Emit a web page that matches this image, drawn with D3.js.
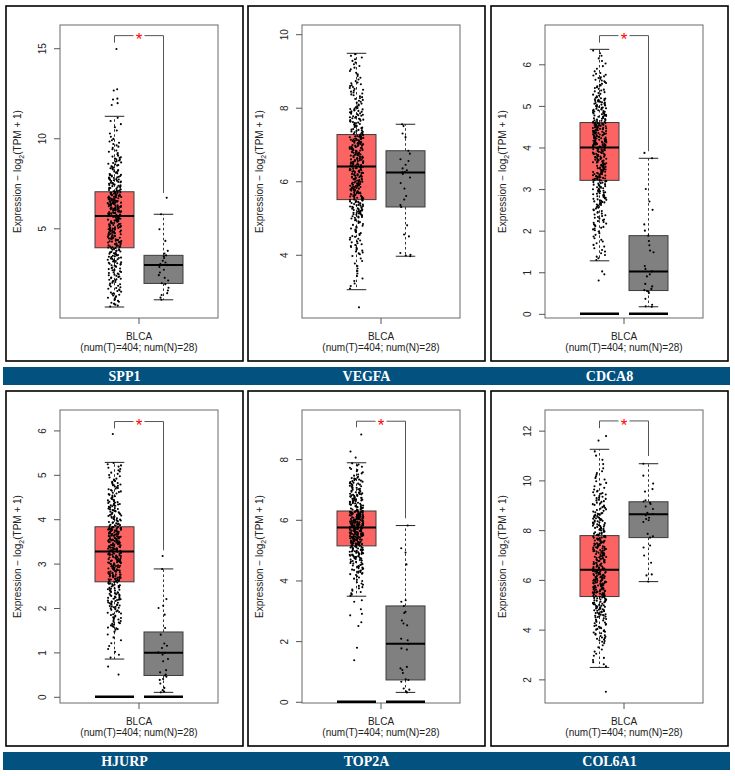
<!DOCTYPE html>
<html><head><meta charset="utf-8">
<script src="https://cdn.jsdelivr.net/npm/d3@7"></script>
<style>body{margin:0;background:#fff}</style>
</head><body><div id="chart"></div>
<script>
const genes = ["SPP1","VEGFA","CDCA8","HJURP","TOP2A","COL6A1"];
const groups = ["Tumor","Normal"];
const cancerLabel = "BLCA";
const countLabel = "(num(T)=404; num(N)=28)";
const yDomains = [[0.02,16.29],[2.28,10.25],[-0.10,6.945],[-0.14,6.46],[-0.04,9.62],[1.05,12.83]];
const yTicks = [[5,10,15],[4,6,8,10],[0,1,2,3,4,5,6],[0,1,2,3,4,5,6],[0,2,4,6,8],[2,4,6,8,10,12]];
// [lower whisker, Q1, median, Q3, upper whisker]
const tumorStats = [
  [0.63,3.92,5.68,7.03,11.22],
  [3.05,5.50,6.40,7.27,9.48],
  [1.275,3.21,4.00,4.60,6.36],
  [0.85,2.59,3.27,3.83,5.28],
  [3.48,5.14,5.75,6.29,7.88],
  [2.48,5.33,6.41,7.78,11.25]];
const normalStats = [
  [1.03,1.94,2.96,3.50,5.78],
  [3.96,5.30,6.24,6.83,7.55],
  [0.17,0.56,1.02,1.88,3.74],
  [0.10,0.48,0.99,1.46,2.88],
  [0.31,0.72,1.91,3.16,5.81],
  [5.93,7.70,8.64,9.14,10.67]];
// tumor sample density: [from, to, count]
const tumorBins = [
  [[0.63,1,7],[1,2,24],[2,3,32],[3,3.92,38],[3.92,4.8,50],[4.8,5.68,51],[5.68,6.35,51],[6.35,7.03,50],[7.03,8,45],[8,9,28],[9,10,14],[10,11.22,7]],
  [[3.05,4,14],[4,5,40],[5,5.5,47],[5.5,6.4,101],[6.4,7.27,101],[7.27,8,55],[8,8.7,28],[8.7,9.48,17]],
  [[1.275,2,18],[2,2.6,30],[2.6,3.21,50],[3.21,4,101],[4,4.6,101],[4.6,5.2,62],[5.2,5.8,30],[5.8,6.36,9]],
  [[0.85,1.5,10],[1.5,2,30],[2,2.59,58],[2.59,3.27,101],[3.27,3.83,101],[3.83,4.4,55],[4.4,4.9,32],[4.9,5.28,14]],
  [[3.48,4.2,18],[4.2,4.7,30],[4.7,5.14,44],[5.14,5.75,101],[5.75,6.29,101],[6.29,6.9,55],[6.9,7.4,30],[7.4,7.88,13]],
  [[2.48,3.5,12],[3.5,4.5,35],[4.5,5.33,53],[5.33,6.41,101],[6.41,7.78,101],[7.78,8.7,52],[8.7,9.6,30],[9.6,10.4,12],[10.4,11.25,5]]];
const tumorOutliers = [
  [14.96,12.72,12.65,12.2,12.15,11.95,11.85],
  [2.57],
  [1.02,0.95,0.8],
  [5.92,0.68,0.5],
  [8.81,8.25,8.05,3.35,3.3,3.05,2.9,2.85,2.62,2.5,1.78,1.37],
  [11.78,11.6,1.5]];
const normalValues = [
  [6.7,5.78,4.95,4.3,3.75,3.6,3.5,3.45,3.35,3.2,3.1,3.02,2.98,2.95,2.85,2.7,2.55,2.4,2.25,2.1,1.95,1.9,1.7,1.55,1.4,1.3,1.15,1.03],
  [7.55,7.5,7.3,7.2,6.83,6.75,6.6,6.55,6.45,6.35,6.3,6.25,6.24,6.2,6.1,5.95,5.8,5.6,5.5,5.35,5.3,4.8,4.55,4.5,4.05,4.0,3.98,3.96],
  [3.87,3.74,3.0,2.7,2.5,2.15,2.0,1.88,1.75,1.65,1.52,1.48,1.15,1.08,1.02,0.95,0.9,0.72,0.66,0.6,0.57,0.55,0.53,0.5,0.36,0.22,0.18,0.17],
  [3.17,2.88,2.2,2.05,2.0,1.85,1.55,1.4,1.2,1.15,1.1,1.0,0.99,0.95,0.85,0.8,0.6,0.55,0.5,0.48,0.45,0.4,0.38,0.3,0.2,0.15,0.12,0.1],
  [5.81,5.06,4.92,4.53,3.35,3.3,3.16,2.97,2.93,2.68,2.58,2.52,2.08,2.03,1.91,1.76,1.72,1.15,1.1,1.05,0.95,0.74,0.72,0.66,0.44,0.4,0.34,0.31],
  [10.67,10.19,9.87,9.65,9.55,9.2,9.15,9.1,9.05,8.95,8.85,8.7,8.65,8.6,8.5,8.45,8.4,8.33,7.85,7.75,7.7,7.38,7.3,6.98,6.69,6.22,6.18,5.93]];
const zeroBar = [false,false,true,true,true,false];
// significance bracket: [top, left leg end, right leg end] or null
const brackets = [[15.7,15.31,6.96],null,[6.69,6.52,3.91],[6.20,6.045,3.30],[9.25,9.05,6.05],[12.39,12.10,10.98]];

const W = 735, H = 776;
const svg = d3.select("#chart").append("svg").attr("width",W).attr("height",H)
  .style("font-family","'Liberation Sans', Arial, Helvetica, sans-serif");
svg.append("rect").attr("width",W).attr("height",H).attr("fill","#fff");

const colX = [6,248,491], rowY = [6,391];
const PW = 237, PH = 355;
const IL = 54, IR = 212, IT = 19, IB = 312;
const cx = (IL+IR)/2;
const boxW = 39;
const tumorFill = "#fc6464", normalFill = "#808080";

function hash(i, k){ const s = Math.sin(i*12.9898 + k*78.233)*43758.5453; return s - Math.floor(s); }

genes.forEach((gene, i) => {
  const ox = colX[i%3], oy = rowY[Math.floor(i/3)];
  const g = svg.append("g").attr("transform",`translate(${ox},${oy})`);
  const x = d3.scalePoint().domain(groups).range([cx-24.5, cx+24.5]);
  const y = d3.scaleLinear().domain(yDomains[i]).range([IB, IT]);

  g.append("rect").attr("x",0).attr("y",0).attr("width",PW).attr("height",PH)
    .attr("fill","none").attr("stroke","#000").attr("stroke-width",1.6);
  g.append("rect").attr("x",IL).attr("y",IT).attr("width",IR-IL).attr("height",IB-IT)
    .attr("fill","none").attr("stroke","#6a6a6a").attr("stroke-width",1);

  // y axis
  const ya = g.append("g").attr("transform",`translate(${IL},0)`)
    .call(d3.axisLeft(y).tickValues(yTicks[i]).tickSize(6).tickFormat(d3.format("d")));
  ya.select(".domain").remove();
  ya.selectAll(".tick line").attr("stroke","#555");
  ya.selectAll(".tick text").attr("x",null).attr("dy",null)
    .attr("transform","translate(-17.5,0) rotate(-90)").attr("text-anchor","middle")
    .attr("dy","0.36em").attr("font-size",10).attr("fill","#222")
    .style("font-family","'Liberation Sans', Arial, sans-serif");

  // y label
  const yl = g.append("text").attr("transform",`translate(11,${(IT+IB)/2}) rotate(-90)`)
    .attr("text-anchor","middle").attr("dy","0.36em").attr("font-size",10).attr("fill","#222");
  yl.append("tspan").text("Expression \u2212 log");
  yl.append("tspan").attr("font-size",7).attr("dy",3).text("2");
  yl.append("tspan").attr("dy",-3).text("(TPM + 1)");

  // x axis
  g.append("line").attr("x1",cx).attr("x2",cx).attr("y1",IB).attr("y2",IB+6).attr("stroke","#555");
  g.append("text").attr("x",cx).attr("y",333.5).attr("text-anchor","middle").attr("font-size",10).attr("fill","#222").text(cancerLabel);
  g.append("text").attr("x",cx).attr("y",344.8).attr("text-anchor","middle").attr("font-size",10).attr("fill","#222").text(countLabel);

  const stats = {Tumor: tumorStats[i], Normal: normalStats[i]};
  const fills = {Tumor: tumorFill, Normal: normalFill};
  groups.forEach(gr => {
    const [lo,q1,md,q3,hi] = stats[gr];
    const xc = x(gr);
    g.append("line").attr("x1",xc).attr("x2",xc).attr("y1",y(q3)).attr("y2",y(hi))
      .attr("stroke","#333").attr("stroke-dasharray","2.5,2.5");
    g.append("line").attr("x1",xc).attr("x2",xc).attr("y1",y(q1)).attr("y2",y(lo))
      .attr("stroke","#333").attr("stroke-dasharray","2.5,2.5");
    [lo,hi].forEach(v => g.append("line").attr("x1",xc-boxW/4).attr("x2",xc+boxW/4)
      .attr("y1",y(v)).attr("y2",y(v)).attr("stroke","#222"));
    g.append("rect").attr("x",xc-boxW/2).attr("y",y(q3)).attr("width",boxW).attr("height",y(q1)-y(q3))
      .attr("fill",fills[gr]).attr("stroke","#3c3c3c").attr("stroke-width",1);
    if (zeroBar[i]) g.append("line").attr("x1",xc-boxW/2).attr("x2",xc+boxW/2)
      .attr("y1",y(0)).attr("y2",y(0)).attr("stroke","#000").attr("stroke-width",2.5);
  });

  // points
  const tVals = [];
  tumorBins[i].forEach(([a,b,n]) => { for (let j=0;j<n;j++) tVals.push(a + (j+0.5)/n*(b-a)); });
  tumorOutliers[i].forEach(v => tVals.push(v));
  const pts = tVals.map((v,j) => ({g:"Tumor", v, dx:(hash(j, i+1)*2-1)*6.8}))
    .concat(normalValues[i].map((v,j) => ({g:"Normal", v, dx:(hash(j+500, i+7)*2-1)*5.2})));
  g.selectAll("circle.pt").data(pts).join("circle").attr("class","pt")
    .attr("cx", d => x(d.g) + d.dx).attr("cy", d => y(d.v)).attr("r",1.05).attr("fill","#000");

  // medians on top
  groups.forEach(gr => {
    const md = stats[gr][2], xc = x(gr);
    g.append("line").attr("x1",xc-boxW/2).attr("x2",xc+boxW/2).attr("y1",y(md)).attr("y2",y(md))
      .attr("stroke","#000").attr("stroke-width",2);
  });

  // significance
  const br = brackets[i];
  if (br) {
    const [top, le, re] = br;
    const xl = x("Tumor"), xr = x("Normal"), yt = y(top);
    const st = {stroke:"#555", w:1};
    g.append("path").attr("d",`M${xl},${y(le)}V${yt}H${cx-5.5}`).attr("fill","none").attr("stroke",st.stroke);
    g.append("path").attr("d",`M${cx+5.5},${yt}H${xr}V${y(re)}`).attr("fill","none").attr("stroke",st.stroke);
    g.append("text").attr("x",cx).attr("y",yt+9.8).attr("text-anchor","middle")
      .attr("font-size",17).attr("fill","#ff0000").text("*");
  }
});

// gene name bands
[0,1].forEach(r => {
  const by = rowY[r] + PH + 6;
  svg.append("rect").attr("x",3).attr("y",by).attr("width",727).attr("height",18).attr("fill","#03517f");
});
genes.forEach((gene,i) => {
  const ox = colX[i%3], oy = rowY[Math.floor(i/3)];
  svg.append("text").attr("x",ox+PW/2).attr("y",oy+PH+6+14).attr("text-anchor","middle")
    .attr("font-size",14).attr("font-weight","bold").attr("fill","#fff")
    .style("font-family","'Liberation Serif','DejaVu Serif',serif").text(gene);
});
</script></body></html>
